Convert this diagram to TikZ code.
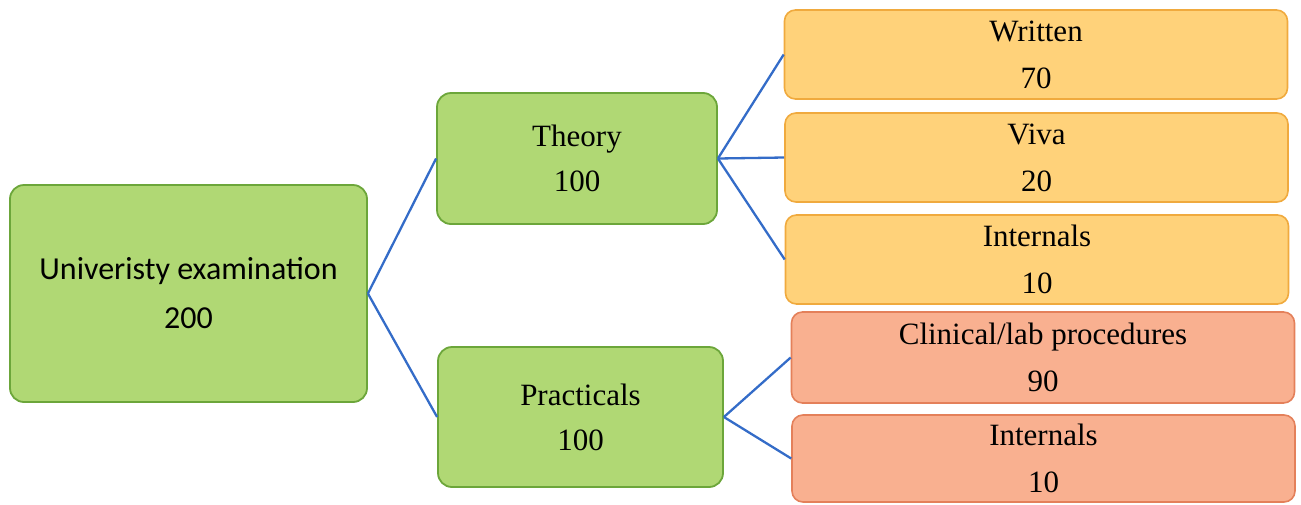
\documentclass[tikz,border=0pt]{standalone}
\usepackage{fontspec}
\setmainfont{Liberation Serif}
\newfontfamily\calibri{Carlito}
\usepackage{tikz}
\usetikzlibrary{positioning}
\definecolor{verdefill}{RGB}{176,216,116}
\definecolor{verdebordo}{RGB}{108,166,58}
\definecolor{aranciofill}{RGB}{255,210,122}
\definecolor{aranciobordo}{RGB}{240,170,62}
\definecolor{rosafill}{RGB}{249,176,144}
\definecolor{rosabordo}{RGB}{228,128,90}
\definecolor{lineablu}{RGB}{52,108,200}
\tikzstyle{nodoverde} = [rectangle,rounded corners=14pt,line width=1.8pt,draw=verdebordo,fill=verdefill,text=black,align=center,font=\fontsize{31}{45}\selectfont]
\tikzstyle{nodoarancio} = [rectangle,rounded corners=11pt,line width=1.6pt,draw=aranciobordo,fill=aranciofill,text=black,align=center,minimum width=503pt,minimum height=89pt,font=\fontsize{31}{47}\selectfont]
\tikzstyle{nodorosa} = [rectangle,rounded corners=11pt,line width=1.6pt,draw=rosabordo,fill=rosafill,text=black,align=center,minimum width=503pt,minimum height=89pt,font=\fontsize{31}{47}\selectfont]
\tikzstyle{linea} = [line width=2.3pt,draw=lineablu]
\begin{document}
\begin{tikzpicture}[x=1pt,y=-1pt]
\useasboundingbox (0,0) rectangle (1301,504);

\node (UE) [nodoverde,minimum width=357pt,minimum height=217pt,font=\calibri\fontsize{32}{49}\selectfont] at (188.5,293.5) {Univeristy examination\\200};

\node (TH) [nodoverde,minimum width=280pt,minimum height=131pt] at (577,158.5) {Theory\\100};
\node (PR) [nodoverde,minimum width=285pt,minimum height=140pt] at (580.5,417) {Practicals\\100};

\node (TW) [nodoarancio] at (1036,54.5) {Written\\70};
\node (TV) [nodoarancio] at (1036.5,157.5) {Viva\\20};
\node (TI) [nodoarancio] at (1037,259.5) {Internals\\10};

\node (PC) [nodorosa,minimum height=91pt] at (1043,357.5) {Clinical/lab procedures\\90};
\node (PI) [nodorosa,minimum height=87pt] at (1043.5,458.5) {Internals\\10};

\draw[linea] (UE.east) -- (TH.west);
\draw[linea] (UE.east) -- (PR.west);

\draw[linea] (TH.east) -- (TW.west);
\draw[linea] (TH.east) -- (TV.west);
\draw[linea] (TH.east) -- (TI.west);

\draw[linea] (PR.east) -- (PC.west);
\draw[linea] (PR.east) -- (PI.west);

\end{tikzpicture}
\end{document}
